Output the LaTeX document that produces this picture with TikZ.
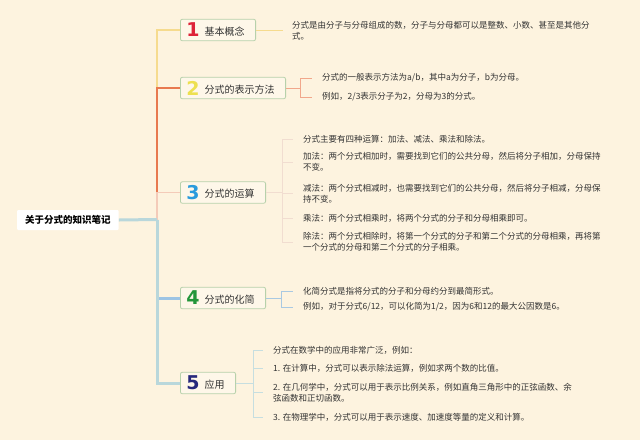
\documentclass[tikz,border=0pt]{standalone}
\usepackage{fontspec}
\setmainfont{Noto Sans CJK SC}
\newfontfamily\numfont{DejaVu Sans}
\usepackage{xcolor}
\definecolor{bgcream}{HTML}{FDF3DF}
\definecolor{boxgreen}{HTML}{B7D1AB}
\definecolor{boxfill}{HTML}{FEF7E9}
\definecolor{inktext}{HTML}{333333}
\definecolor{lineone}{HTML}{F6DB8E}
\definecolor{linetwo}{HTML}{E8794F}
\definecolor{linethree}{HTML}{F4CBB9}
\definecolor{linefour}{HTML}{9DC4E4}
\definecolor{linefive}{HTML}{B9D7DB}
\definecolor{leaftwo}{HTML}{F1A78B}
\definecolor{leafthree}{HTML}{F1DDD0}
\definecolor{leaffour}{HTML}{A9C9E2}
\definecolor{leaffive}{HTML}{C6DEE0}
\definecolor{noone}{HTML}{DE2238}
\definecolor{notwo}{HTML}{EDE04F}
\definecolor{nothree}{HTML}{2A9BDD}
\definecolor{nofour}{HTML}{23963A}
\definecolor{nofive}{HTML}{26287C}

\newcommand{\topicno}[2]{\raisebox{-1.5pt}{\numfont\bfseries\fontsize{19}{19}\selectfont\color{#1}#2}\hspace{5pt}}

\begin{document}
\begin{tikzpicture}[x=1pt,y=-1pt,
  rootbox/.style={fill=white, rounded corners=1pt, anchor=west, minimum height=20pt, inner xsep=8pt, inner ysep=0pt, font=\bfseries\fontsize{9.5}{11}\selectfont, text=black},
  topic/.style={draw=boxgreen, fill=boxfill, rounded corners=2pt, line width=0.8pt, anchor=west, minimum height=21.5pt, inner xsep=6pt, inner ysep=0pt, font=\fontsize{10}{11}\selectfont, text=inktext, execute at end node={\hspace{5pt}}},
  leaf/.style={anchor=west, inner sep=0pt, align=left, font=\fontsize{8.5}{11}\selectfont, text=inktext},
  twig/.style={line width=0.7pt, shorten >=10pt}]
\useasboundingbox (0,0) rectangle (640,440);
\fill[bgcream] (0,0) rectangle (640,440);

% central topic and main branches
\node[rootbox] (root) at (17,220) {关于分式的知识笔记};
\coordinate (trunk) at (157,219.5);
\node[topic] (b1) at (180,30) {\topicno{noone}{1}基本概念};
\node[topic] (b2) at (180,88) {\topicno{notwo}{2}分式的表示方法};
\node[topic] (b3) at (180,192.5) {\topicno{nothree}{3}分式的运算};
\node[topic] (b4) at (180,298) {\topicno{nofour}{4}分式的化简};
\node[topic] (b5) at (180,383) {\topicno{nofive}{5}应用};

\draw[lineone, line width=1.2pt] (trunk) |- (b1.west);
\draw[linetwo, line width=2.6pt] (trunk) |- (b2.west);
\draw[linethree, line width=1.6pt] (trunk) |- (b3.west);
\draw[linefour, line width=3pt] (trunk) |- (b4.west);
\draw[linefive, line width=3pt] (trunk) |- (b5.west);
\draw[linefive, line width=3pt] (root.east) -- (trunk);

% 1
\node[leaf] (l11) at (292,31) {分式是由分子与分母组成的数，分子与分母都可以是整数、小数、甚至是其他分\\式。};
\coordinate (k1) at (283,30);
\draw[lineone, line width=1pt] (b1.east) -- (k1);

% 2
\node[leaf] (l21) at (322,78) {分式的一般表示方法为a/b，其中a为分子，b为分母。};
\node[leaf] (l22) at (322,97) {例如，2/3表示分子为2，分母为3的分式。};
\coordinate (k2) at (300,88);
\draw[leaftwo, line width=0.8pt] (b2.east) -- (k2);
\foreach \n in {l21,l22} \draw[leaftwo, twig] (k2) |- (\n.west);

% 3
\node[leaf] (l31) at (303,139) {分式主要有四种运算：加法、减法、乘法和除法。};
\node[leaf] (l32) at (303,162) {加法：两个分式相加时，需要找到它们的公共分母，然后将分子相加，分母保持\\不变。};
\node[leaf] (l33) at (303,193.5) {减法：两个分式相减时，也需要找到它们的公共分母，然后将分子相减，分母保\\持不变。};
\node[leaf] (l34) at (303,218) {乘法：两个分式相乘时，将两个分式的分子和分母相乘即可。};
\node[leaf] (l35) at (303,242) {除法：两个分式相除时，将第一个分式的分子和第二个分式的分母相乘，再将第\\一个分式的分母和第二个分式的分子相乘。};
\coordinate (k3) at (282,192.5);
\draw[leafthree, line width=0.8pt] (b3.east) -- (k3);
\foreach \n in {l31,l32,l33,l34,l35} \draw[leafthree, twig] (k3) |- (\n.west);

% 4
\node[leaf] (l41) at (303,291) {化简分式是指将分式的分子和分母约分到最简形式。};
\node[leaf] (l42) at (303,307) {例如，对于分式6/12，可以化简为1/2，因为6和12的最大公因数是6。};
\coordinate (k4) at (281,298);
\draw[leaffour, line width=0.8pt] (b4.east) -- (k4);
\foreach \n in {l41,l42} \draw[leaffour, twig] (k4) |- (\n.west);

% 5
\node[leaf] (l51) at (273,350) {分式在数学中的应用非常广泛，例如：};
\node[leaf] (l52) at (273,368) {1. 在计算中，分式可以表示除法运算，例如求两个数的比值。};
\node[leaf] (l53) at (273,392.5) {2. 在几何学中，分式可以用于表示比例关系，例如直角三角形中的正弦函数、余\\弦函数和正切函数。};
\node[leaf] (l54) at (273,417) {3. 在物理学中，分式可以用于表示速度、加速度等量的定义和计算。};
\coordinate (k5) at (253,383);
\draw[leaffive, line width=0.8pt] (b5.east) -- (k5);
\foreach \n in {l51,l52,l53,l54} \draw[leaffive, twig] (k5) |- (\n.west);
\end{tikzpicture}
\end{document}
